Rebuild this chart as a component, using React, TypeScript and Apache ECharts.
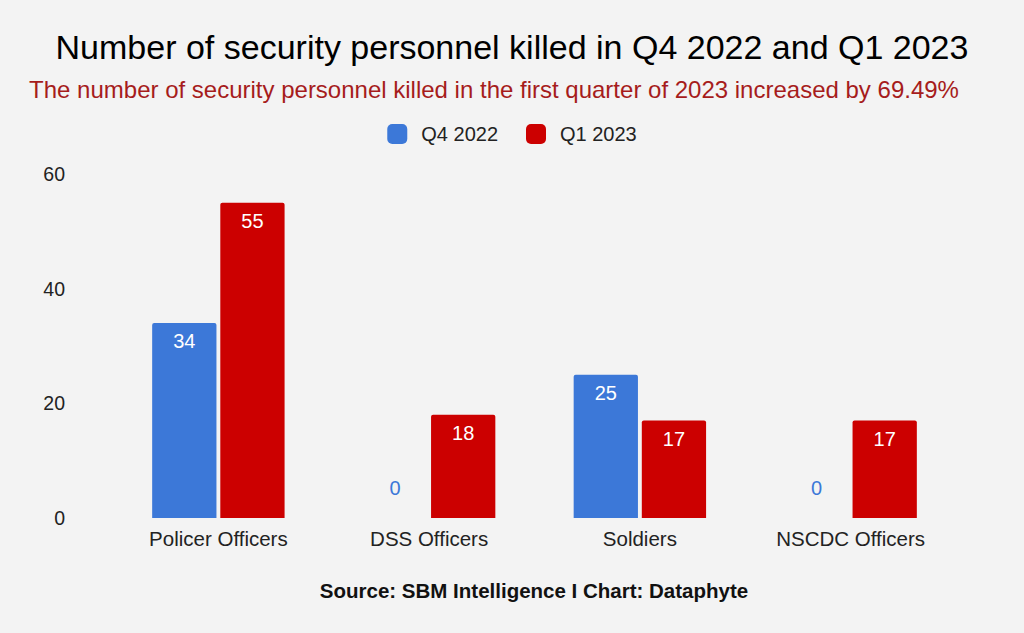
import React, { useEffect, useRef } from "react";
import * as echarts from "echarts";

const categories = ["Policer Officers", "DSS Officers", "Soldiers", "NSCDC Officers"];
const q4_2022 = [34, 0, 25, 0];
const q1_2023 = [55, 18, 17, 17];
const seriesNames = ["Q4 2022", "Q1 2023"];
const colors = ["#3c78d8", "#cc0000"];
const titleText = "Number of security personnel killed in Q4 2022 and Q1 2023";
const subtitleText = "The number of security personnel killed in the first quarter of 2023 increased by 69.49%";
const sourceText = "Source: SBM Intelligence I Chart: Dataphyte";

const FONT = "'Liberation Sans', Arial, sans-serif";

function mkData(vals: number[], color: string) {
  return vals.map((v) =>
    v === 0
      ? { value: v, label: { position: "top", color, distance: 20 } }
      : { value: v }
  );
}

export default function App() {
  const ref = useRef<HTMLDivElement>(null);
  useEffect(() => {
    const chart = echarts.init(ref.current!, null, { renderer: "svg" });
    const labelBase = {
      show: true,
      position: "insideTop",
      distance: 8,
      color: "#ffffff",
      fontSize: 20,
      fontFamily: FONT,
    };
    chart.setOption({
      animation: false,
      backgroundColor: "#f3f3f3",
      textStyle: { fontFamily: FONT },
      graphic: [
        {
          type: "text",
          x: 512,
          y: 47,
          style: {
            text: titleText,
            fontSize: 34,
            fontFamily: FONT,
            fill: "#000000",
            align: "center",
            verticalAlign: "middle",
          },
        },
        {
          type: "text",
          x: 494,
          y: 89,
          style: {
            text: subtitleText,
            fontSize: 24,
            fontFamily: FONT,
            fill: "#a61c1c",
            align: "center",
            verticalAlign: "middle",
          },
        },
        {
          type: "text",
          x: 534,
          y: 590,
          style: {
            text: sourceText,
            fontSize: 20.5,
            fontWeight: "bold",
            fontFamily: FONT,
            fill: "#111111",
            align: "center",
            verticalAlign: "middle",
          },
        },
      ],
      legend: {
        top: 119,
        left: "center",
        itemWidth: 20,
        itemHeight: 20,
        itemGap: 28,
        icon: "roundRect",
        data: seriesNames,
        textStyle: {
          fontSize: 20,
          color: "#222222",
          fontFamily: FONT,
          padding: [0, 0, 0, 9],
        },
      },
      grid: { left: 113, right: 68, top: 174, bottom: 115, containLabel: false },
      xAxis: {
        type: "category",
        data: categories,
        axisLine: { show: false },
        axisTick: { show: false },
        axisLabel: { fontSize: 20.5, color: "#222222", margin: 10, fontFamily: FONT },
      },
      yAxis: {
        type: "value",
        min: 0,
        max: 60,
        interval: 20,
        splitLine: { show: false },
        axisLine: { show: false },
        axisTick: { show: false },
        axisLabel: { fontSize: 19.5, color: "#222222", margin: 48, fontFamily: FONT },
      },
      series: [
        {
          name: seriesNames[0],
          type: "bar",
          data: mkData(q4_2022, colors[0]),
          itemStyle: { color: colors[0], borderRadius: [2, 2, 0, 0] },
          barWidth: "30.5%",
          barGap: "6%",
          label: labelBase,
        },
        {
          name: seriesNames[1],
          type: "bar",
          data: mkData(q1_2023, colors[1]),
          itemStyle: { color: colors[1], borderRadius: [2, 2, 0, 0] },
          barWidth: "30.5%",
          barGap: "6%",
          label: labelBase,
        },
      ],
    });
    return () => chart.dispose();
  }, []);
  return (
    <div
      ref={ref}
      style={{ position: "absolute", left: 0, top: 0, width: 1024, height: 633 }}
    />
  );
}
